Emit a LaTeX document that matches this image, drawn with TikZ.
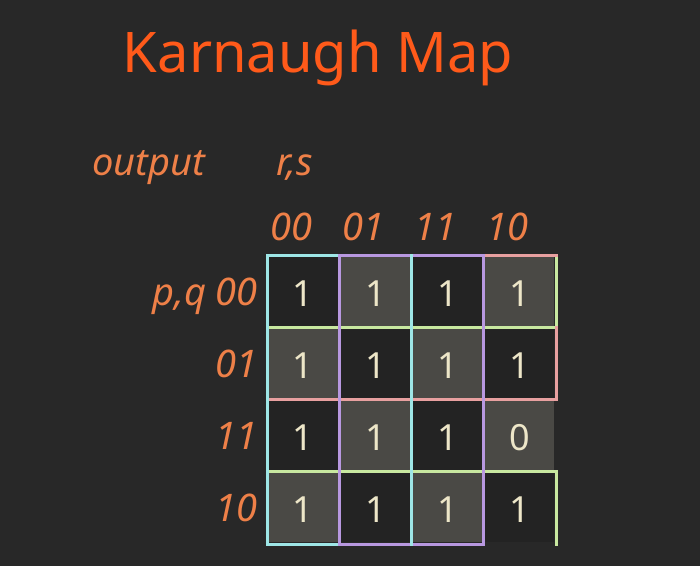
\documentclass[tikz,border=0pt]{standalone}
\usepackage{fontspec}
\setmainfont{Noto Sans}
\definecolor{bgdark}{HTML}{282828}
\definecolor{celldark}{HTML}{232323}
\definecolor{cellgray}{HTML}{4A4945}
\definecolor{digit}{HTML}{EDE6C8}
\definecolor{titleorange}{HTML}{FF5A1A}
\definecolor{lblorange}{HTML}{EE8048}
\definecolor{kcyan}{HTML}{9EE6E6}
\definecolor{kpurple}{HTML}{B898E0}
\definecolor{kpink}{HTML}{E8A0A0}
\definecolor{kgreen}{HTML}{C8E8A0}
\begin{document}
\begin{tikzpicture}[x=1pt,y=1pt,
    cell/.style={minimum size=69pt, inner sep=0pt, text height=30pt, text depth=0pt,
      font=\fontsize{36}{36}\selectfont, text=digit},
    lbl/.style={font=\fontsize{38}{38}\selectfont\itshape, text=lblorange, inner sep=0pt},
    grp/.style={line width=3pt, line cap=rect}]
        % Define the background
        \fill[bgdark] (0,0) rectangle (700,566);

        % Add the title
        \node[font=\fontsize{56}{56}\selectfont, text=titleorange, anchor=base] (title) at (318,493) {Karnaugh Map};

        % Define the grid corners
        \foreach \i in {0,...,4}
            \foreach \j in {0,...,4}
                \coordinate (g\i\j) at ({267+72.25*\j},{311-72.25*\i});

        % Fill the cells
        \foreach \i in {0,...,3}
            \foreach \j in {0,...,3} {
                \pgfmathtruncatemacro\odd{mod(\i+\j,2)}
                \ifnum\odd=1 \def\cellfill{cellgray}\else\def\cellfill{celldark}\fi
                \ifnum\i\j=23 \def\val{0}\else\def\val{1}\fi
                \node[cell, fill=\cellfill] (c\i\j) at ({303.125+72.25*\j},{274.875-72.25*\i}) {\val};
            }

        % Define the groups, rows first
        \draw[grp, kgreen] (g10) -- (g14) (g30) -- (g34) (g04) -- (g14) (g34) -- (g44);
        \draw[grp, kpink] (g20) -- (g24) (g03) -- (g04) (g14) -- (g24);
        \draw[grp, kcyan] (g00) -- (g01) (g40) -- (g41);
        \draw[grp, kpurple] (g01) -- (g03) (g41) -- (g43);
        \draw[grp, kcyan] (g00) -- (g40) (g02) -- (g42);
        \draw[grp, kpurple] (g01) -- (g41) (g03) -- (g43);

        % Add the variable names
        \node[lbl, anchor=base west] (out) at (92,391) {output};
        \node[lbl, anchor=base west] (rs) at (276,391) {r,s};
        \foreach \t [count=\j from 0] in {00,01,11,10}
            \node[lbl, anchor=base] (col\j) at ({291+72.25*\j},326) {\t};
        \foreach \t [count=\i from 0] in {{p,q 00},01,11,10}
            \node[lbl, anchor=base east] (row\i) at (258,{261-72.25*\i}) {\t};
    \end{tikzpicture}
\end{document}
